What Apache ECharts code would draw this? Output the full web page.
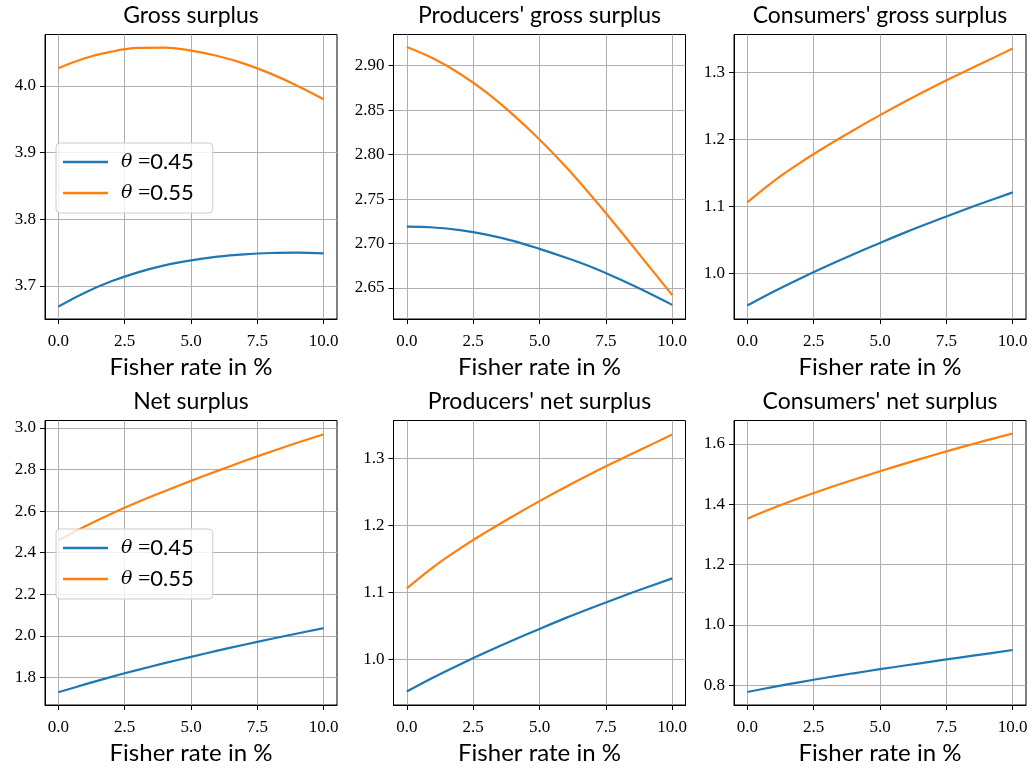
<!DOCTYPE html>
<html><head><meta charset="utf-8">
<script src="https://cdn.jsdelivr.net/npm/echarts@6/dist/echarts.min.js"></script>
<style>html,body{margin:0;padding:0;background:#fff}#c{width:1032px;height:771px}</style>
</head><body><div id="c"></div>
<script>
// ---------- data ----------
const fisherRate = [0, 1, 2, 3, 4, 5, 6, 7, 8, 9, 10];
const seriesNames = ['θ =0.45', 'θ =0.55'];
const panelTitles = ['Gross surplus', "Producers' gross surplus", "Consumers' gross surplus",
                     'Net surplus', "Producers' net surplus", "Consumers' net surplus"];
const xAxisName = 'Fisher rate in %';
const xTicks = [0, 2.5, 5, 7.5, 10];

const grossLow       = [3.669, 3.690, 3.707, 3.7205, 3.731, 3.7385, 3.744, 3.7475, 3.7495, 3.750, 3.749];
const grossHigh      = [4.0266, 4.0415, 4.0515, 4.0570, 4.0575, 4.0530, 4.0450, 4.0335, 4.0185, 4.0005, 3.9800];
const prodGrossLow   = [2.719, 2.718, 2.715, 2.710, 2.703, 2.694, 2.684, 2.673, 2.660, 2.646, 2.631];
const prodGrossHigh  = [2.921, 2.908, 2.891, 2.870, 2.845, 2.817, 2.786, 2.752, 2.716, 2.679, 2.642];
const consGrossLow   = [0.952, 0.973, 0.9925, 1.011, 1.0285, 1.0455, 1.062, 1.0775, 1.0925, 1.107, 1.121];
const consGrossHigh  = [1.106, 1.138, 1.1655, 1.1905, 1.214, 1.2365, 1.258, 1.2785, 1.298, 1.317, 1.336];
const netLow         = [1.729, 1.767, 1.803, 1.837, 1.869, 1.8995, 1.929, 1.9575, 1.985, 2.0115, 2.037];
const netHigh        = [2.460, 2.526, 2.587, 2.643, 2.695, 2.745, 2.793, 2.840, 2.885, 2.928, 2.969];
const prodNetLow     = [0.952, 0.973, 0.9925, 1.011, 1.0285, 1.0455, 1.062, 1.0775, 1.0925, 1.107, 1.121];
const prodNetHigh    = [1.106, 1.138, 1.1655, 1.1905, 1.214, 1.2365, 1.258, 1.2785, 1.298, 1.317, 1.336];
const consNetLow     = [0.778, 0.795, 0.811, 0.826, 0.840, 0.8535, 0.8665, 0.8795, 0.892, 0.9045, 0.917];
const consNetHigh    = [1.352, 1.388, 1.421, 1.452, 1.481, 1.509, 1.536, 1.562, 1.587, 1.611, 1.634];

const yTicks1 = [3.7, 3.8, 3.9, 4.0];
const yTicks2 = [2.65, 2.70, 2.75, 2.80, 2.85, 2.90];
const yTicks3 = [1.0, 1.1, 1.2, 1.3];
const yTicks4 = [1.8, 2.0, 2.2, 2.4, 2.6, 2.8, 3.0];
const yTicks5 = [1.0, 1.1, 1.2, 1.3];
const yTicks6 = [0.8, 1.0, 1.2, 1.4, 1.6];
const yDecimals = [1, 2, 1, 1, 1, 1];
const yRanges = [[3.6505, 4.0772], [2.6151, 2.9351], [0.9318, 1.3570],
                 [1.668, 3.035], [0.9318, 1.3570], [0.735, 1.677]];

const panels = [
  [grossLow, grossHigh, yTicks1], [prodGrossLow, prodGrossHigh, yTicks2], [consGrossLow, consGrossHigh, yTicks3],
  [netLow, netHigh, yTicks4], [prodNetLow, prodNetHigh, yTicks5], [consNetLow, consNetHigh, yTicks6]
];

// ---------- layout ----------
const colLeft = [45, 393.5, 734];
const rowTop = [34.5, 420.5];
const W = 292, H = 284.5;
const colors = ['#1f77b4', '#ff7f0e'];
const serif = 'Liberation Serif';
const sans = 'Lato';

const grids = [], xAxes = [], yAxes = [], series = [], titles = [];
panels.forEach((p, i) => {
  const c = i % 3, r = Math.floor(i / 3);
  grids.push({left: colLeft[c], top: rowTop[r], width: W, height: H, show: true,
    borderColor: '#000', borderWidth: 1, backgroundColor: 'transparent', containLabel: false});
  xAxes.push({type: 'value', gridIndex: i, min: -0.5, max: 10.5,
    name: xAxisName, nameLocation: 'middle', nameGap: 36,
    nameTextStyle: {fontFamily: sans, fontSize: 24, color: '#000'},
    axisLine: {show: true, onZero: false, lineStyle: {color: '#000', width: 1}},
    axisTick: {show: true, length: 5, inside: false, customValues: xTicks, lineStyle: {color: '#000'}},
    axisLabel: {customValues: xTicks, margin: 14, fontFamily: serif, fontSize: 17, color: '#000',
      formatter: v => Number(v).toFixed(1)},
    splitLine: {show: true, lineStyle: {color: '#b0b0b0', width: 1}}
  });
  yAxes.push({type: 'value', gridIndex: i, min: yRanges[i][0], max: yRanges[i][1],
    axisLine: {show: true, onZero: false, lineStyle: {color: '#000', width: 1}},
    axisTick: {show: true, length: 5, inside: false, customValues: p[2], lineStyle: {color: '#000'}},
    axisLabel: {customValues: p[2], margin: 9, fontFamily: serif, fontSize: 17, color: '#000',
      formatter: v => Number(v).toFixed(yDecimals[i])},
    splitLine: {show: true, lineStyle: {color: '#b0b0b0', width: 1}}
  });
  [p[0], p[1]].forEach((vals, k) => {
    series.push({type: 'line', name: seriesNames[k], xAxisIndex: i, yAxisIndex: i,
      data: fisherRate.map((x, j) => [x, vals[j]]), smooth: 0.4, showSymbol: false, symbol: 'none',
      lineStyle: {color: colors[k], width: 2.2}, itemStyle: {color: colors[k]}, z: 3});
  });
  titles.push({text: panelTitles[i], left: colLeft[c] + W / 2, top: r === 0 ? 4 : 390, textAlign: 'center',
    padding: 0, textStyle: {fontFamily: sans, fontSize: 23, fontWeight: 'normal', color: '#000'}});
});

function legendAt(top) {
  return {top: top, left: 56, orient: 'vertical', icon: 'rect', itemWidth: 45, itemHeight: 2.5,
    itemGap: 7, padding: [7, 19, 8, 7], backgroundColor: 'rgba(255,255,255,0.8)',
    borderColor: '#cccccc', borderWidth: 1, borderRadius: 4, selectedMode: false,
    data: seriesNames,
    formatter: n => '{th|θ}{eq| =}{num|' + n.split('=')[1] + '}',
    textStyle: {color: '#000', fontSize: 20, lineHeight: 24,
      rich: {
        th: {fontFamily: 'DejaVu Serif', fontStyle: 'italic', fontSize: 19, color: '#000', padding: [0, 0, 0, 8], lineHeight: 24},
        eq: {fontFamily: serif, fontSize: 22, color: '#000', lineHeight: 24},
        num: {fontFamily: sans, fontSize: 22, color: '#000', lineHeight: 24}
      }}
  };
}

const chart = echarts.init(document.getElementById('c'), null, {renderer: 'canvas'});
chart.setOption({
  backgroundColor: '#fff',
  animation: false,
  title: titles,
  legend: [legendAt(143), legendAt(529)],
  grid: grids, xAxis: xAxes, yAxis: yAxes, series: series
});
</script></body></html>
